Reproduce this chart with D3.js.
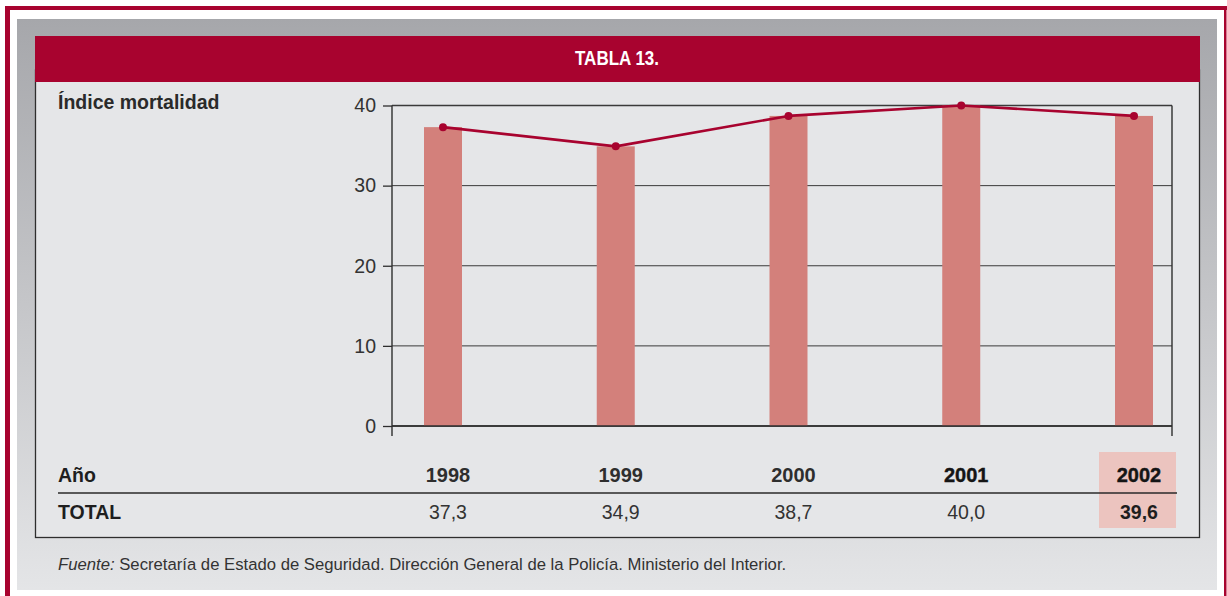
<!DOCTYPE html>
<html><head><meta charset="utf-8">
<script src="https://cdn.jsdelivr.net/npm/d3@7"></script>
<style>body{margin:0;background:#fff}svg{display:block}</style>
</head><body><svg id="c" width="1227" height="596"></svg>
<script>
// ---- data ----
const years = ["1998", "1999", "2000", "2001", "2002"];
const plottedValues = [37.3, 34.9, 38.7, 40.0, 38.7];   // as drawn in the chart
const totalValues = [37.3, 34.9, 38.7, 40.0, 39.6];     // as printed in the table
const yTicks = [0, 10, 20, 30, 40];
const titleText = "TABLA 13.";
const yLabelText = "Índice mortalidad";
const rowHeaderText = "Año";
const rowTotalText = "TOTAL";
const highlightYear = "2002";
const sourceLead = "Fuente:";
const sourceText = " Secretaría de Estado de Seguridad. Dirección General de la Policía. Ministerio del Interior.";

// ---- styles ----
const RED = "#a8032f", BAR = "#d3807b", HILITE = "#ecc4bf", PANEL = "#e5e6e8", INK = "#333", DARK = "#1e1e1e";
const FONT = "'Liberation Sans', Arial, sans-serif";

const svg = d3.select("#c");
const defs = svg.append("defs");
const g = defs.append("linearGradient").attr("id", "frame").attr("x1", 0).attr("y1", 0).attr("x2", 0).attr("y2", 1);
g.append("stop").attr("offset", "0%").attr("stop-color", "#a6a7ab");
g.append("stop").attr("offset", "100%").attr("stop-color", "#e4e5e7");

// outer red border
svg.append("rect").attr("x", 5).attr("y", 6).attr("width", 1222).attr("height", 4).attr("fill", RED);
svg.append("rect").attr("x", 5).attr("y", 6).attr("width", 5).attr("height", 590).attr("fill", RED);
svg.append("rect").attr("x", 1224).attr("y", 6).attr("width", 2.5).attr("height", 590).attr("fill", RED);

// gray frame
svg.append("rect").attr("x", 17).attr("y", 19).attr("width", 1200).attr("height", 571).attr("fill", "url(#frame)");

// panel
svg.append("rect").attr("x", 35.5).attr("y", 70).attr("width", 1164).attr("height", 467.5)
  .attr("fill", PANEL).attr("stroke", "#2e2e2e").attr("stroke-width", 1.3);

// title bar
svg.append("rect").attr("x", 35).attr("y", 36).attr("width", 1165).attr("height", 46).attr("fill", RED);
svg.append("text").attr("transform", "translate(617,64.5) scale(0.85,1)").attr("text-anchor", "middle")
  .attr("font-family", "'Liberation Sans Narrow', 'Liberation Sans', sans-serif")
  .attr("font-weight", "bold").attr("font-size", 20).attr("fill", "#fff").text(titleText);

// y label
svg.append("text").attr("x", 58).attr("y", 109).attr("font-family", FONT)
  .attr("font-weight", "bold").attr("font-size", 19.5).attr("fill", "#2a2a2a").text(yLabelText);

// ---- chart ----
const plotL = 392, plotR = 1172;
const y = d3.scaleLinear().domain([0, 40]).range([426, 105.5]);
const x = d3.scalePoint().domain(years).range([plotL + 51, plotR - 38]);
const data = years.map((yr, i) => ({ year: yr, v: plottedValues[i], total: totalValues[i] }));

// gridlines
svg.append("g").selectAll("line").data(yTicks).join("line")
  .attr("x1", plotL).attr("x2", plotR).attr("y1", d => y(d)).attr("y2", d => y(d))
  .attr("stroke", "#3a3a3a").attr("stroke-width", d => d === 0 || d === 40 ? 1.4 : 1);

// bars
const bw = 38;
svg.append("g").selectAll("rect").data(data).join("rect")
  .attr("x", d => x(d.year) - bw / 2).attr("width", bw)
  .attr("y", d => y(d.v)).attr("height", d => y(0) - y(d.v)).attr("fill", BAR);

// redraw baseline over bars
svg.append("line").attr("x1", plotL).attr("x2", plotR).attr("y1", y(0)).attr("y2", y(0))
  .attr("stroke", "#2e2e2e").attr("stroke-width", 1.4);

// axis
const axis = svg.append("g").attr("transform", `translate(${plotL},0)`)
  .call(d3.axisLeft(y).tickValues(yTicks).tickSize(9).tickPadding(7).tickFormat(d3.format("d")));
axis.select(".domain").remove();
axis.selectAll(".tick line").attr("stroke", "#2e2e2e").attr("stroke-width", 1.3);
axis.selectAll(".tick text").attr("font-family", FONT).attr("font-size", 19.5).attr("fill", INK);

// vertical frame lines
svg.append("line").attr("x1", plotL).attr("x2", plotL).attr("y1", y(40)).attr("y2", 436)
  .attr("stroke", "#2e2e2e").attr("stroke-width", 1.4);
svg.append("line").attr("x1", plotR).attr("x2", plotR).attr("y1", y(40)).attr("y2", 436)
  .attr("stroke", "#2e2e2e").attr("stroke-width", 1.4);

// line + dots
svg.append("path").datum(data)
  .attr("d", d3.line().x(d => x(d.year)).y(d => y(d.v)))
  .attr("fill", "none").attr("stroke", RED).attr("stroke-width", 2.6).attr("stroke-linejoin", "round");
svg.append("g").selectAll("circle").data(data).join("circle")
  .attr("cx", d => x(d.year)).attr("cy", d => y(d.v)).attr("r", 4).attr("fill", RED);

// ---- table ----
const tdx = 5;
svg.append("rect").attr("x", x(highlightYear) - 35).attr("y", 452).attr("width", 77).attr("height", 76).attr("fill", HILITE);
svg.append("line").attr("x1", 58).attr("x2", 1177).attr("y1", 493).attr("y2", 493)
  .attr("stroke", "#2a2a2a").attr("stroke-width", 1.4);

svg.append("text").attr("x", 58).attr("y", 481.5).attr("font-family", FONT).attr("font-weight", "bold")
  .attr("font-size", 19.5).attr("fill", DARK).text(rowHeaderText);
svg.append("text").attr("x", 58).attr("y", 519).attr("font-family", FONT).attr("font-weight", "bold")
  .attr("font-size", 19.5).attr("fill", DARK).text(rowTotalText);

const fmt = v => d3.format(".1f")(v).replace(".", ",");
svg.append("g").selectAll("text").data(data).join("text")
  .attr("x", d => x(d.year) + tdx).attr("y", 481.5).attr("text-anchor", "middle")
  .attr("font-family", FONT).attr("font-weight", "bold").attr("font-size", 20)
  .attr("fill", d => (d.year === "2001" || d.year === highlightYear) ? "#151515" : "#2e2e2e")
  .attr("stroke", d => (d.year === "2001" || d.year === highlightYear) ? "#151515" : "none")
  .attr("stroke-width", 0.4)
  .text(d => d.year);
svg.append("g").selectAll("text").data(data).join("text")
  .attr("x", d => x(d.year) + tdx).attr("y", 518.5).attr("text-anchor", "middle")
  .attr("font-family", FONT).attr("font-size", 19.5)
  .attr("font-weight", d => d.year === highlightYear ? "bold" : "normal")
  .attr("fill", d => d.year === highlightYear ? "#1e1e1e" : INK)
  .text(d => fmt(d.total));

// source
const src = svg.append("text").attr("x", 58).attr("y", 570).attr("font-family", FONT)
  .attr("font-size", 16.7).attr("fill", INK);
src.append("tspan").attr("font-style", "italic").text(sourceLead);
src.append("tspan").text(sourceText);
</script>
</body></html>
